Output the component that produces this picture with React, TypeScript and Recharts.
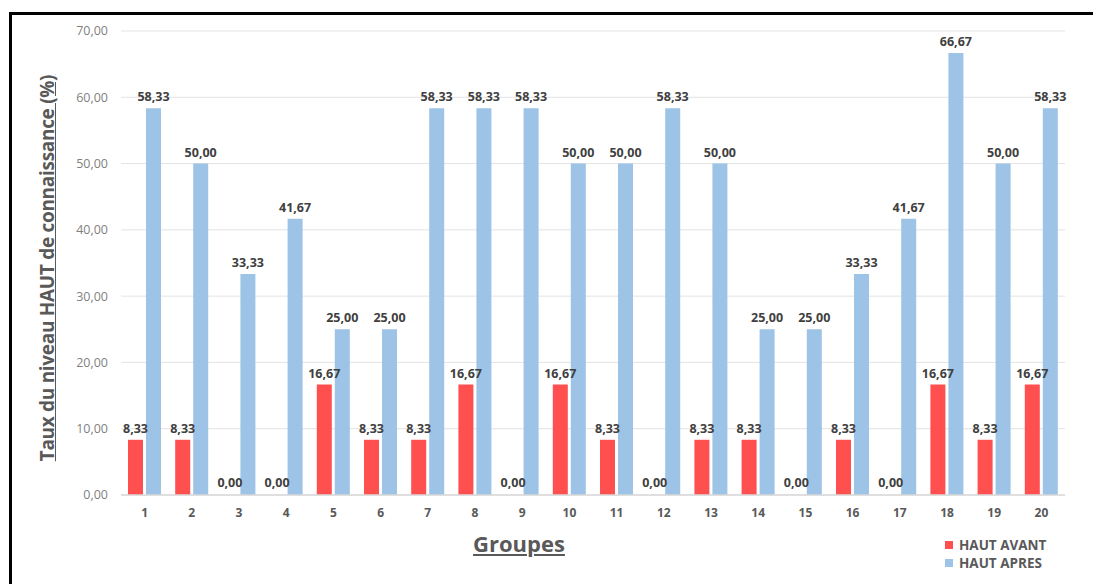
import { BarChart, Bar, XAxis, YAxis, CartesianGrid, LabelList, Cell } from 'recharts';

const groups = ['1', '2', '3', '4', '5', '6', '7', '8', '9', '10', '11', '12', '13', '14', '15', '16', '17', '18', '19', '20'];
const hautAvant = [8.33, 8.33, 0, 0, 16.67, 8.33, 8.33, 16.67, 0, 16.67, 8.33, 0, 8.33, 8.33, 0, 8.33, 0, 16.67, 8.33, 16.67];
const hautApres = [58.33, 50, 33.33, 41.67, 25, 25, 58.33, 58.33, 58.33, 50, 50, 58.33, 50, 25, 25, 33.33, 41.67, 66.67, 50, 58.33];
const yTicks = [0, 10, 20, 30, 40, 50, 60, 70];

const data = groups.map((g, i) => ({
  groupe: g,
  avant: hautAvant[i],
  apres: hautApres[i],
}));

const fmt = (v: number) => v.toFixed(2).replace('.', ',');
const font = '"Open Sans", sans-serif';
const labelStyle = { fontSize: 12.5, fontWeight: 700, fill: '#404040', fontFamily: font };

const App = () => {
  return (
    <div style={{ position: 'absolute', left: 0, top: 0, width: 1093, height: 584, background: '#fff', overflow: 'hidden', fontFamily: font }}>
      <div
        style={{
          position: 'absolute',
          left: 9,
          top: 12,
          width: 1100,
          height: 600,
          borderTop: '3px solid #000',
          borderLeft: '3px solid #000',
        }}
      />
      <BarChart
        width={1093}
        height={584}
        data={data}
        margin={{ top: 31, right: 28, bottom: 59, left: 0 }}
        barSize={15}
        barGap={3}
        style={{ position: 'absolute', left: 0, top: 0 }}
      >
        <CartesianGrid vertical={false} stroke="#e3e3e3" />
        <XAxis
          dataKey="groupe"
          height={30}
          tickLine={false}
          tickSize={0}
          tickMargin={13}
          axisLine={{ stroke: '#d9d9d9', strokeWidth: 1.5 }}
          tick={{ fontSize: 12, fontWeight: 700, fill: '#595959', fontFamily: font }}
          interval={0}
        />
        <YAxis
          width={121}
          domain={[0, 70]}
          ticks={yTicks}
          tickFormatter={fmt}
          axisLine={false}
          tickLine={false}
          tickSize={0}
          tickMargin={13}
          tick={{ fontSize: 12.5, fill: '#7f7f7f', fontFamily: font }}
        />
        <Bar dataKey="avant" fill="#ff4f4f" minPointSize={1} isAnimationActive={false}>
          {hautAvant.map((v, i) => (
            <Cell key={i} fill={v === 0 ? 'transparent' : '#ff4f4f'} />
          ))}
          <LabelList dataKey="avant" position="top" offset={7} formatter={(v: any) => fmt(Number(v))} style={labelStyle} />
        </Bar>
        <Bar dataKey="apres" fill="#9dc3e6" isAnimationActive={false}>
          <LabelList dataKey="apres" position="top" offset={7} formatter={(v: any) => fmt(Number(v))} style={labelStyle} />
        </Bar>
      </BarChart>
      <div
        style={{
          position: 'absolute',
          left: 47 - 220,
          top: 268 - 14,
          width: 440,
          height: 28,
          lineHeight: '28px',
          textAlign: 'center',
          transform: 'rotate(-90deg)',
          fontSize: 19,
          fontWeight: 700,
          color: '#595959',
          textDecoration: 'underline',
          whiteSpace: 'nowrap',
          letterSpacing: -0.3,
        }}
      >
        Taux du niveau HAUT de connaissance (%)
      </div>
      <div
        style={{
          position: 'absolute',
          left: 519 - 80,
          top: 543 - 15,
          width: 160,
          height: 30,
          lineHeight: '30px',
          textAlign: 'center',
          fontSize: 22,
          fontWeight: 700,
          color: '#595959',
          textDecoration: 'underline',
        }}
      >
        Groupes
      </div>
      <div style={{ position: 'absolute', left: 945, top: 536, fontSize: 13.5, fontWeight: 700, color: '#595959' }}>
        {[
          { name: 'HAUT AVANT', color: '#ff4f4f' },
          { name: 'HAUT APRES', color: '#9dc3e6' },
        ].map((it) => (
          <div key={it.name} style={{ display: 'flex', alignItems: 'center', height: 18 }}>
            <span style={{ width: 8, height: 8, background: it.color, marginRight: 6 }} />
            {it.name}
          </div>
        ))}
      </div>
    </div>
  );
};

export default App;
